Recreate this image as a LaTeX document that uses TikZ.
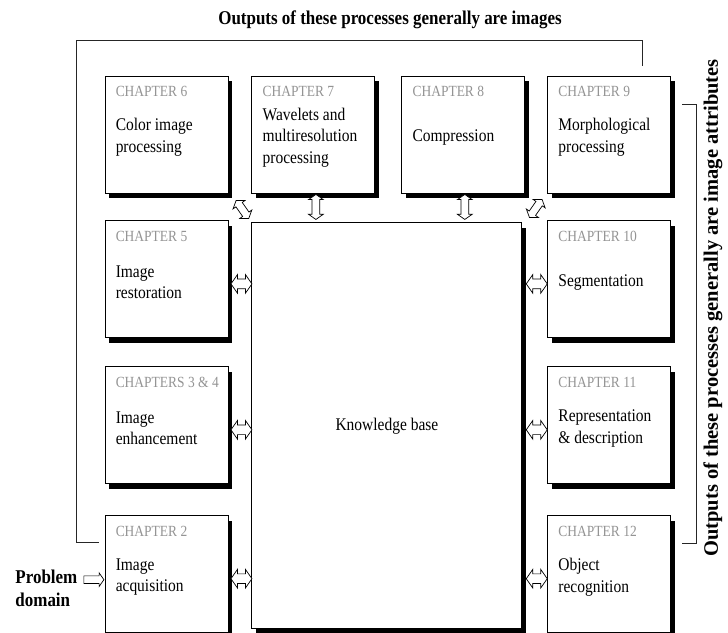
\documentclass[tikz,border=0pt]{standalone}
\usepackage{fontspec}
\setmainfont{Liberation Serif}[FakeStretch=0.87]
\newfontfamily\sidefont{Liberation Serif}
\usetikzlibrary{positioning,shapes.arrows,shadows}

\begin{document}
\begin{tikzpicture}[
  node distance=23pt,
  chbox/.style={draw,fill=white,line width=0.9pt,minimum width=123pt,minimum height=117pt,inner sep=0pt,
    drop shadow={shadow xshift=4pt,shadow yshift=-5pt,fill=black,opacity=1}},
  chap/.style={anchor=base west,inner sep=0pt,text=black!42,font=\fontsize{15.5pt}{18pt}\selectfont},
  desc/.style={anchor=west,inner sep=0pt,align=left,font=\fontsize{17.8pt}{21.5pt}\selectfont},
  dbl/.style={double arrow,draw,fill=white,line width=0.7pt,inner xsep=0pt,double arrow tip angle=110},
  hdbl/.style={dbl,minimum height=21pt,inner ysep=4.5pt,double arrow head extend=4.5pt},
  vdbl/.style={dbl,rotate=90,minimum height=25pt,inner ysep=3.5pt,double arrow head extend=3.5pt},
  ddbl/.style={dbl,minimum height=22pt,inner ysep=3.5pt,double arrow head extend=3.5pt},
  sgl/.style={single arrow,draw,fill=white,line width=0.7pt,inner xsep=0pt,inner ysep=3.5pt,
    single arrow tip angle=110,minimum height=20pt,single arrow head extend=3pt},
  fb/.style={line width=0.8pt,black!85},
  heading/.style={inner sep=0pt,font=\bfseries\fontsize{19.5pt}{23pt}\selectfont}
]
\useasboundingbox (0,0) rectangle (728pt,632pt);

% chapter boxes
\node[chbox] (ch6) at (166.5pt,497.5pt) {};
\node[chbox,right=of ch6] (ch7) {};
\node[chbox,right=26pt of ch7] (ch8) {};
\node[chbox,right=22pt of ch8] (ch9) {};
\node[chbox,below=27pt of ch6] (ch5) {};
\node[chbox,below=28pt of ch5] (ch34) {};
\node[chbox,below=31pt of ch34] (ch2) {};
\node[chbox,below=27pt of ch9] (ch10) {};
\node[chbox,below=28pt of ch10] (ch11) {};
\node[chbox,below=31pt of ch11] (ch12) {};
\node[chbox,below=29pt of ch7.south west,anchor=north west,minimum width=270pt,minimum height=406pt,
      font=\fontsize{17.8pt}{21.5pt}\selectfont] (kb) {Knowledge base};

\node[chap] (ch6n) at ([shift={(11pt,-21pt)}]ch6.north west) {CHAPTER 6};
\node[chap] (ch7n) at ([shift={(11pt,-21pt)}]ch7.north west) {CHAPTER 7};
\node[chap] (ch8n) at ([shift={(11pt,-21pt)}]ch8.north west) {CHAPTER 8};
\node[chap] (ch9n) at ([shift={(11pt,-21pt)}]ch9.north west) {CHAPTER 9};
\node[chap] (ch5n) at ([shift={(11pt,-21pt)}]ch5.north west) {CHAPTER 5};
\node[chap] (ch34n) at ([shift={(11pt,-21pt)}]ch34.north west) {CHAPTERS 3 \& 4};
\node[chap] (ch2n) at ([shift={(11pt,-21pt)}]ch2.north west) {CHAPTER 2};
\node[chap] (ch10n) at ([shift={(11pt,-21pt)}]ch10.north west) {CHAPTER 10};
\node[chap] (ch11n) at ([shift={(11pt,-21pt)}]ch11.north west) {CHAPTER 11};
\node[chap] (ch12n) at ([shift={(11pt,-21pt)}]ch12.north west) {CHAPTER 12};

\node[desc] (ch6d) at ([shift={(11pt,-3pt)}]ch6.west) {Color image\\processing};
\node[desc] (ch7d) at ([shift={(11pt,-3pt)}]ch7.west) {Wavelets and\\multiresolution\\processing};
\node[desc] (ch8d) at ([shift={(11pt,-3pt)}]ch8.west) {Compression};
\node[desc] (ch9d) at ([shift={(11pt,-3pt)}]ch9.west) {Morphological\\processing};
\node[desc] (ch5d) at ([shift={(11pt,-3pt)}]ch5.west) {Image\\restoration};
\node[desc] (ch34d) at ([shift={(11pt,-3pt)}]ch34.west) {Image\\enhancement};
\node[desc] (ch2d) at ([shift={(11pt,-3pt)}]ch2.west) {Image\\acquisition};
\node[desc] (ch10d) at ([shift={(11pt,-3pt)}]ch10.west) {Segmentation};
\node[desc] (ch11d) at ([shift={(11pt,-3pt)}]ch11.west) {Representation\\\& description};
\node[desc] (ch12d) at ([shift={(11pt,-3pt)}]ch12.west) {Object\\recognition};

% links to the knowledge base
\node[hdbl] (a5) at ([shift={(13pt,-4.5pt)}]ch5.east) {};
\node[hdbl] (a34) at ([shift={(13pt,-4.5pt)}]ch34.east) {};
\node[hdbl] (a2) at ([shift={(13pt,-4.5pt)}]ch2.east) {};
\node[hdbl] (a10) at ([shift={(-10.5pt,-4.5pt)}]ch10.west) {};
\node[hdbl] (a11) at ([shift={(-10.5pt,-4.5pt)}]ch11.west) {};
\node[hdbl] (a12) at ([shift={(-10.5pt,-4.5pt)}]ch12.west) {};
\node[vdbl] (a7) at ([shift={(2.5pt,-13.5pt)}]ch7.south) {};
\node[vdbl] (a8) at ([shift={(1.5pt,-13.5pt)}]ch8.south) {};
\node[ddbl,rotate=-55] (a6) at ([shift={(14pt,-16pt)}]ch6.south east) {};
\node[ddbl,rotate=55] (a9) at ([shift={(-11.5pt,-15pt)}]ch9.south west) {};

% input
\node[sgl] (pdarrow) at ([shift={(-12pt,-5.5pt)}]ch2.west) {};
\node[heading,align=left,anchor=north east] (pd) at ([shift={(-6pt,9.5pt)}]pdarrow.west) {Problem\\domain};

% output brackets
\draw[fb] ([shift={(-6pt,-27pt)}]ch2.north west) -- ++(-22pt,0) |- ([shift={(95pt,35pt)}]ch9.north west) -- ++(0,-25pt);
\draw[fb] ([shift={(11pt,-29pt)}]ch9.north east) -- ++(14pt,0) |- ([shift={(11pt,-28pt)}]ch12.north east);
\node[heading,anchor=base] (imgout) at (390pt,607pt) {Outputs of these processes generally are images};
\node[heading,rotate=90,font=\sidefont\bfseries\fontsize{20.5pt}{24pt}\selectfont] (attrout) at (713pt,324pt)
  {Outputs of these processes generally are image attributes};
\end{tikzpicture}
\end{document}
